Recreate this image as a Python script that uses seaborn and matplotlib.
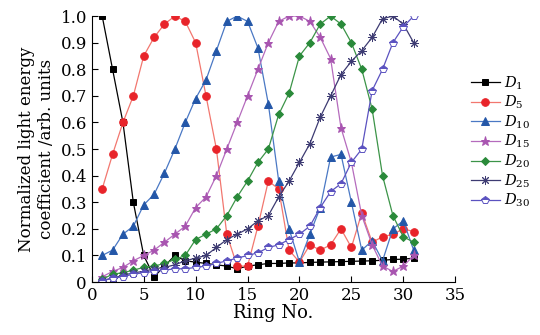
import numpy as np
import pandas as pd
import seaborn as sns
from matplotlib import pyplot as plt

# ring index 1..31
rings = list(range(1, 32))

d1 = [1.0, 0.8, 0.6, 0.3, 0.1, 0.02, 0.06, 0.1, 0.08, 0.075, 0.07, 0.065, 0.06, 0.05, 0.06,
      0.065, 0.07, 0.07, 0.072, 0.072, 0.074, 0.075, 0.076, 0.077, 0.078, 0.079, 0.08, 0.082,
      0.085, 0.086, 0.09]
d5 = [0.35, 0.48, 0.6, 0.7, 0.85, 0.92, 0.97, 1.0, 0.98, 0.9, 0.7, 0.5, 0.18, 0.06, 0.06,
      0.21, 0.38, 0.35, 0.12, 0.075, 0.14, 0.12, 0.14, 0.2, 0.13, 0.26, 0.15, 0.17, 0.18,
      0.2, 0.19]
d10 = [0.1, 0.12, 0.18, 0.21, 0.29, 0.33, 0.41, 0.5, 0.6, 0.69, 0.76, 0.87, 0.98, 1.0, 0.98,
       0.88, 0.67, 0.38, 0.2, 0.075, 0.18, 0.28, 0.47, 0.48, 0.3, 0.12, 0.155, 0.08, 0.2,
       0.23, 0.12]
d15 = [0.02, 0.04, 0.055, 0.08, 0.1, 0.12, 0.15, 0.18, 0.21, 0.28, 0.32, 0.4, 0.5, 0.6, 0.7,
       0.8, 0.9, 0.98, 1.0, 1.0, 0.98, 0.92, 0.84, 0.58, 0.45, 0.25, 0.14, 0.06, 0.04, 0.06,
       0.1]
d20 = [0.01, 0.03, 0.035, 0.045, 0.055, 0.06, 0.07, 0.085, 0.1, 0.16, 0.18, 0.2, 0.25, 0.32,
       0.38, 0.45, 0.5, 0.63, 0.71, 0.85, 0.9, 0.97, 1.0, 0.97, 0.9, 0.8, 0.65, 0.4, 0.25,
       0.17, 0.15]
d25 = [0.005, 0.015, 0.025, 0.035, 0.04, 0.05, 0.055, 0.065, 0.08, 0.09, 0.1, 0.13, 0.16,
       0.18, 0.2, 0.23, 0.25, 0.32, 0.38, 0.45, 0.52, 0.62, 0.7, 0.78, 0.83, 0.87, 0.92, 0.99,
       1.0, 0.97, 0.9]
d30 = [0.005, 0.015, 0.02, 0.03, 0.035, 0.04, 0.045, 0.05, 0.05, 0.055, 0.06, 0.07, 0.08,
       0.09, 0.1, 0.11, 0.13, 0.14, 0.16, 0.18, 0.21, 0.28, 0.34, 0.37, 0.45, 0.5, 0.72, 0.8,
       0.9, 0.96, 1.0]

series = {'$D_{1}$': d1, '$D_{5}$': d5, '$D_{10}$': d10, '$D_{15}$': d15,
          '$D_{20}$': d20, '$D_{25}$': d25, '$D_{30}$': d30}

# line colour, marker colour, marker, size, extra kwargs
styles = {
    '$D_{1}$': ('black', 'black', 's', 4, {}),
    '$D_{5}$': ('#f2776f', '#e8242a', 'o', 5.5, {}),
    '$D_{10}$': ('#4a78c4', '#2457a8', '^', 5.5, {}),
    '$D_{15}$': ('#b56bbd', '#a855b0', '*', 6.5, {}),
    '$D_{20}$': ('#3c9448', '#2a8a3a', 'D', 4, {}),
    '$D_{25}$': ('#3d3b72', '#3d3b72', (8, 2, 0), 6.5, {}),
    '$D_{30}$': ('#5b52c0', '#5b52c0', 'p', 5.5, {'fillstyle': 'top', 'markerfacecoloralt': 'white'}),
}

plt.rcParams['font.family'] = 'DejaVu Serif'
plt.rcParams['mathtext.fontset'] = 'dejavuserif'

fig = plt.figure(figsize=(5.4, 3.35), dpi=100)
ax = fig.add_axes([0.170, 0.158, 0.673, 0.794])

for name, vals in series.items():
    lc, mc, mk, ms, extra = styles[name]
    df = pd.DataFrame({'ring': rings, 'val': vals})
    sns.lineplot(data=df, x='ring', y='val', ax=ax, color=lc, marker=mk, markersize=ms,
                 markerfacecolor=mc, markeredgecolor=mc, markeredgewidth=0.7,
                 linewidth=0.9, label=name, **extra)

ax.set_xlim(0, 35)
ax.set_ylim(0, 1.0)
ax.set_xticks(np.arange(0, 36, 5))
ax.set_yticks(np.arange(0, 1.01, 0.1))
ax.set_yticklabels(['0'] + ['%.1f' % v for v in np.arange(0.1, 1.01, 0.1)])
ax.tick_params(direction='in', labelsize=12, length=4)
ax.spines['top'].set_visible(False)
ax.spines['right'].set_visible(False)
ax.set_xlabel('Ring No.', fontsize=13, labelpad=0)
ax.set_ylabel('Normalized light energy\ncoefficient /arb. units', fontsize=12, labelpad=4)

ax.legend(loc='upper left', bbox_to_anchor=(0.858, 0.80), bbox_transform=fig.transFigure,
          frameon=False, fontsize=10.5, handlelength=2.0, labelspacing=0.15, borderpad=0.0,
          handletextpad=0.3)

fig.savefig('out.png', dpi=100)
